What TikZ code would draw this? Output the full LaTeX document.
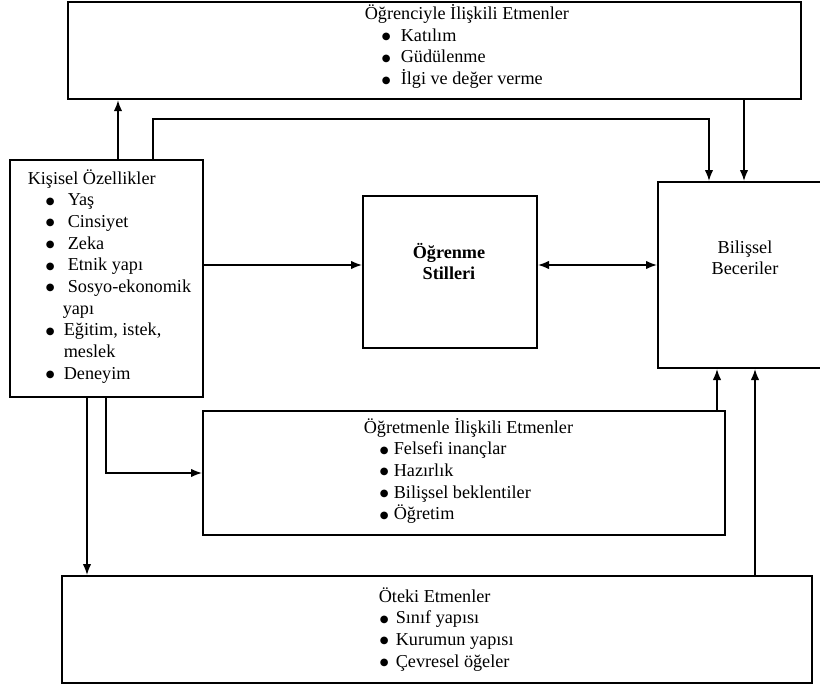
\documentclass[tikz,border=0pt]{standalone}
\usepackage{fontspec}
\setmainfont{Liberation Serif}
\newfontfamily\simge{DejaVu Sans}
\usetikzlibrary{arrows.meta}
\newcommand{\nokta}{\raisebox{1.5pt}{\fontsize{10}{10}\selectfont\simge ●}}
\newcommand{\madde}[3]{\hspace*{#1}\makebox[#2][l]{\nokta}#3}

\begin{document}
\begin{tikzpicture}[x=1pt, y=-1pt, line width=1.6pt, >={Latex[length=11pt, width=8.5pt]},
  kutu/.style={draw, line width=2pt, anchor=north west, inner sep=0pt},
  yazi/.style={inner sep=0pt, font=\fontsize{18.2}{21.7}\selectfont}]
\useasboundingbox (0,0) rectangle (820,685);
\clip (0,0) rectangle (820,685);
% kutular
\node[kutu, minimum width=733pt, minimum height=97pt] (ogrenci) at (67,1.2) {};
\node[kutu, minimum width=193pt, minimum height=237pt] (kisisel) at (9,159) {};
\node[kutu, minimum width=174pt, minimum height=152pt] (stil) at (362,195) {};
\node[kutu, minimum width=176pt, minimum height=186pt] (bilissel) at (657,181) {};
\node[kutu, minimum width=522pt, minimum height=124pt] (ogretmen) at (202,410) {};
\node[kutu, minimum width=750pt, minimum height=107pt] (oteki) at (61,575) {};
% yazilar
\node[yazi, anchor=base west] (ogrencitxt) at (364,19.5) {\begin{tabular}[t]{@{}l@{}}
Öğrenciyle İlişkili Etmenler\\
\madde{17pt}{19pt}{Katılım}\\
\madde{17pt}{19pt}{Güdülenme}\\
\madde{17pt}{19pt}{İlgi ve değer verme}
\end{tabular}};
\node[yazi, anchor=base west] (kisiseltxt) at (27,184) {\begin{tabular}[t]{@{}l@{}}
Kişisel Özellikler\\
\madde{18pt}{22pt}{Yaş}\\
\madde{18pt}{22pt}{Cinsiyet}\\
\madde{18pt}{22pt}{Zeka}\\
\madde{18pt}{22pt}{Etnik yapı}\\
\madde{18pt}{22pt}{Sosyo-ekonomik}\\
\hspace*{35pt}yapı\\
\madde{18pt}{18pt}{Eğitim, istek,}\\
\hspace*{36pt}meslek\\
\madde{18pt}{18pt}{Deneyim}
\end{tabular}};
\node[yazi, anchor=base, font=\fontsize{18.2}{21.7}\selectfont\bfseries] (stiltxt) at (449,258) {\begin{tabular}[t]{@{}c@{}}
Öğrenme\\Stilleri
\end{tabular}};
\node[yazi, anchor=base] (bilisseltxt) at (745,253) {\begin{tabular}[t]{@{}c@{}}
Bilişsel\\Beceriler
\end{tabular}};
\node[yazi, anchor=base west] (ogretmentxt) at (363,433) {\begin{tabular}[t]{@{}l@{}}
Öğretmenle İlişkili Etmenler\\
\madde{16pt}{14pt}{Felsefi inançlar}\\
\madde{16pt}{14pt}{Hazırlık}\\
\madde{16pt}{14pt}{Bilişsel beklentiler}\\
\madde{16pt}{14pt}{Öğretim}
\end{tabular}};
\node[yazi, anchor=base west] (otekitxt) at (378,602) {\begin{tabular}[t]{@{}l@{}}
Öteki Etmenler\\
\madde{1pt}{16pt}{Sınıf yapısı}\\
\madde{1pt}{16pt}{Kurumun yapısı}\\
\madde{1pt}{16pt}{Çevresel öğeler}
\end{tabular}};
% oklar
\draw[->] ([xshift=109pt]kisisel.north west) coordinate (k1) -- (k1 |- ogrenci.south);
\draw[->] ([xshift=144pt]kisisel.north west) -- ++(0,-40) -| ([xshift=52pt]bilissel.north west);
\draw[<-] ([xshift=87pt]bilissel.north west) coordinate (b1) -- (b1 |- ogrenci.south);
\draw[<-] ([yshift=7pt]stil.west) coordinate (s1) -- (s1 -| kisisel.east);
\draw[<->] ([yshift=7pt]stil.east) coordinate (s2) -- (s2 -| bilissel.west);
\draw[->] ([xshift=78pt]kisisel.south west) coordinate (k2) -- (k2 |- oteki.north);
\draw[->] ([xshift=97pt]kisisel.south west) |- (ogretmen.west);
\draw[->] ([xshift=-9pt]ogretmen.north east) coordinate (t1) -- (t1 |- bilissel.south);
\draw[->] ([xshift=-58pt]oteki.north east) coordinate (t2) -- (t2 |- bilissel.south);
\end{tikzpicture}
\end{document}
